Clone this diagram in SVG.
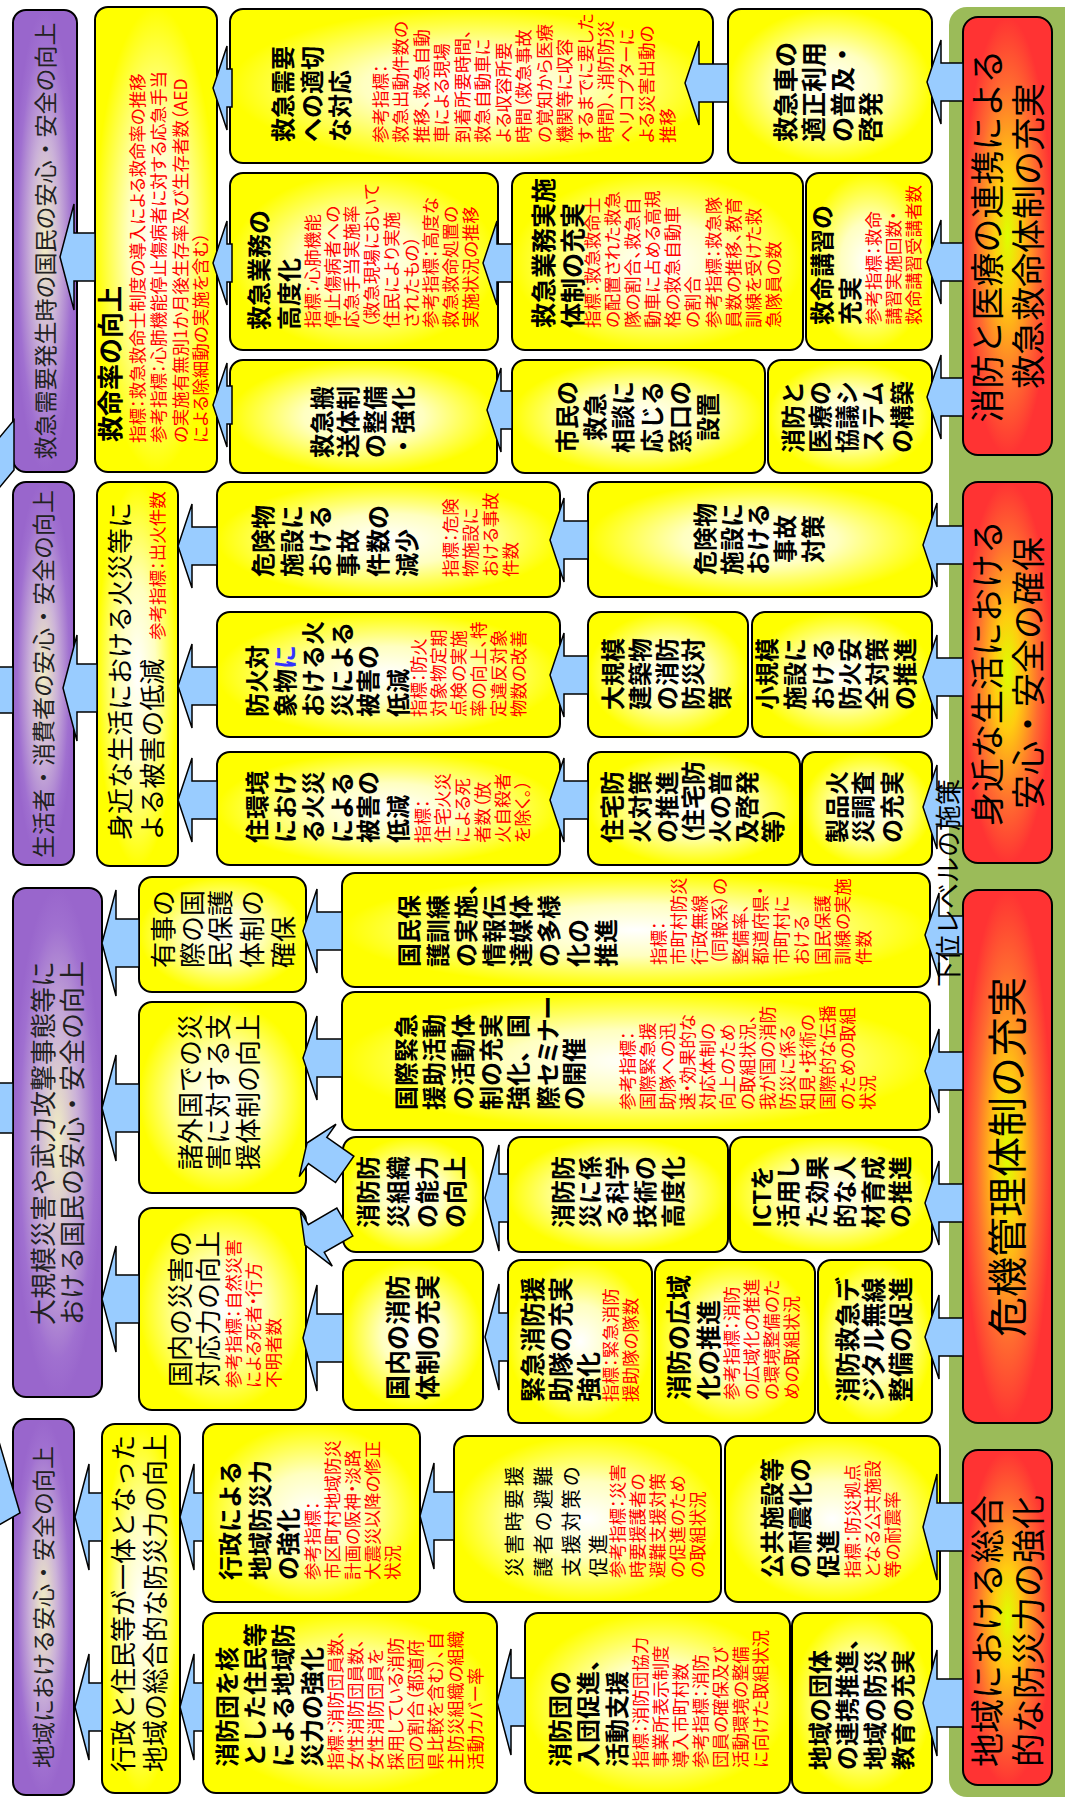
<svg xmlns="http://www.w3.org/2000/svg" width="1065" height="1798" viewBox="0 0 1065 1798">
<defs>
<radialGradient id="gy" cx="0.5" cy="0.5" r="0.5"><stop offset="0" stop-color="#ffffff"/><stop offset="0.45" stop-color="#ffffc0"/><stop offset="1" stop-color="#ffff00"/></radialGradient>
<radialGradient id="gp" cx="0.5" cy="0.5" r="0.5"><stop offset="0" stop-color="#f3f0c2"/><stop offset="0.45" stop-color="#cbb2d8"/><stop offset="0.85" stop-color="#a070d0"/><stop offset="1" stop-color="#9966cc"/></radialGradient>
<radialGradient id="gr" cx="0.5" cy="0.5" r="0.5"><stop offset="0" stop-color="#ddff00"/><stop offset="0.3" stop-color="#ffcc10"/><stop offset="0.7" stop-color="#ff6a30"/><stop offset="1" stop-color="#ff3333"/></radialGradient>
<style>
text{font-family:"Noto Sans CJK JP","Noto Sans CJK SC",sans-serif}
.bx{stroke:#000;stroke-width:2;fill:url(#gy)}
.pu{stroke:#000;stroke-width:2;fill:url(#gp)}
.rd{stroke:#000;stroke-width:2;fill:url(#gr)}
.t{font-size:24px;font-weight:700;fill:#000}
.tr{font-size:26px;font-weight:400;fill:#000}
.r{font-size:17.5px;fill:#ff0000;font-feature-settings:"palt"}
.p{font-size:23px;fill:#222}
.big{font-size:34px;fill:#000}
.ar{fill:#99ccff;stroke:#000;stroke-width:1.5}
</style>
</defs>
<rect width="1065" height="1798" fill="#ffffff"/>
<g transform="translate(0,1798) rotate(-90)">
<rect id="band" x="1" y="949" width="1790" height="140" rx="18" fill="#9bbb59"/>

<!-- ===== Block 1 ===== -->
<g id="p1"><rect class="pu" x="1326" y="13" width="462" height="64" rx="13"/>
<text class="p" x="1557" y="54" text-anchor="middle">救急需要発生時の国民の安心・安全の向上</text></g>

<g id="y1"><rect class="bx" x="1326" y="95" width="465" height="122" rx="13"/>
<text class="t" style="font-size:26px" x="1356" y="120">救命率の向上</text>
<text class="r"><tspan x="1355" y="144">指標：救急救命士制度の導入による救命率の推移</tspan><tspan x="1355" y="165">参考指標：心肺機能停止傷病者に対する応急手当</tspan><tspan x="1355" y="187">の実施有無別1か月後生存率及び生存者数（AED</tspan><tspan x="1355" y="207">による除細動の実施を含む）</tspan></text></g>

<g id="b1-juyo"><rect class="bx" x="1635" y="230" width="154" height="483" rx="13"/>
<text class="t"><tspan x="1656" y="292">救急需要</tspan><tspan x="1656" y="321">への適切</tspan><tspan x="1656" y="349">な対応</tspan></text>
<text class="r"><tspan x="1655" y="387">参考指標：</tspan><tspan x="1655" y="407">救急出動件数の</tspan><tspan x="1655" y="428">推移、救急自動</tspan><tspan x="1655" y="448">車による現場</tspan><tspan x="1655" y="469">到着所要時間、</tspan><tspan x="1655" y="489">救急自動車に</tspan><tspan x="1655" y="510">よる収容所要</tspan><tspan x="1655" y="530">時間（救急事故</tspan><tspan x="1655" y="551">の覚知から医療</tspan><tspan x="1655" y="571">機関等に収容</tspan><tspan x="1655" y="592">するまでに要した</tspan><tspan x="1655" y="612">時間）、消防防災</tspan><tspan x="1655" y="633">ヘリコプターに</tspan><tspan x="1655" y="653">よる災害出動の</tspan><tspan x="1655" y="674">推移</tspan></text></g>

<g id="b1-kodo"><rect class="bx" x="1448" y="230" width="177" height="268" rx="13"/>
<text class="t"><tspan x="1468" y="268">救急業務の</tspan><tspan x="1468" y="298">高度化</tspan></text>
<text class="r"><tspan x="1470" y="319">指標：心肺機能</tspan><tspan x="1470" y="339">停止傷病者への</tspan><tspan x="1470" y="358">応急手当実施率</tspan><tspan x="1470" y="378">（救急現場において</tspan><tspan x="1470" y="398">住民により実施</tspan><tspan x="1470" y="418">されたもの）</tspan><tspan x="1470" y="437">参考指標：高度な</tspan><tspan x="1470" y="457">救急救命処置の</tspan><tspan x="1470" y="477">実施状況の推移</tspan></text></g>

<g id="b1-hanso"><rect class="bx" x="1325" y="230" width="113" height="267" rx="13"/>
<text class="t"><tspan x="1340" y="331">救急搬</tspan><tspan x="1340" y="357">送体制</tspan><tspan x="1340" y="384">の整備</tspan><tspan x="1340" y="412">・強化</tspan></text></g>

<g id="b1-jisshi"><rect class="bx" x="1448" y="512" width="177" height="291" rx="13"/>
<text class="t" style="font-size:25px"><tspan x="1470" y="553">救急業務実施</tspan><tspan x="1470" y="582">体制の充実</tspan></text>
<text class="r"><tspan x="1470" y="599">指標：救急救命士</tspan><tspan x="1470" y="619">の配置された救急</tspan><tspan x="1470" y="639">隊の割合、救急自</tspan><tspan x="1470" y="659">動車に占める高規</tspan><tspan x="1470" y="679">格の救急自動車</tspan><tspan x="1470" y="699">の割合</tspan><tspan x="1470" y="720">参考指標：救急隊</tspan><tspan x="1470" y="740">員数の推移、教育</tspan><tspan x="1470" y="760">訓練を受けた救</tspan><tspan x="1470" y="780">急隊員の数</tspan></text></g>

<g id="b1-soudan"><rect class="bx" x="1325" y="512" width="113" height="253" rx="13"/>
<text class="t" text-anchor="middle"><tspan x="1381" y="576">市民の</tspan><tspan x="1381" y="604">救急</tspan><tspan x="1381" y="632">相談に</tspan><tspan x="1381" y="661">応じる</tspan><tspan x="1381" y="689">窓口の</tspan><tspan x="1381" y="717">設置</tspan></text></g>

<g id="b1-tekisei"><rect class="bx" x="1635" y="728" width="154" height="204" rx="13"/>
<text class="t" style="font-size:25px"><tspan x="1656" y="795">救急車の</tspan><tspan x="1656" y="823">適正利用</tspan><tspan x="1656" y="852">の普及・</tspan><tspan x="1656" y="880">啓発</tspan></text></g>

<g id="b1-koshu"><rect class="bx" x="1448" y="806" width="177" height="126" rx="13"/>
<text class="t"><tspan x="1473" y="831">救命講習の</tspan><tspan x="1473" y="859">充実</tspan></text>
<text class="r"><tspan x="1473" y="880">参考指標：救命</tspan><tspan x="1473" y="900">講習実施回数・</tspan><tspan x="1473" y="920">救命講習受講者数</tspan></text></g>

<g id="b1-kyogi"><rect class="bx" x="1325" y="768" width="113" height="164" rx="13"/>
<text class="t"><tspan x="1345" y="802">消防と</tspan><tspan x="1345" y="829">医療の</tspan><tspan x="1345" y="856">協議シ</tspan><tspan x="1345" y="882">ステム</tspan><tspan x="1345" y="911">の構築</tspan></text></g>

<g id="r1"><rect class="rd" x="1343" y="963" width="438" height="89" rx="15"/>
<text class="big" text-anchor="middle"><tspan x="1562" y="1000">消防と医療の連携による</tspan><tspan x="1562" y="1041">救急救命体制の充実</tspan></text></g>

<!-- ===== Block 2 ===== -->
<g id="p2"><rect class="pu" x="933" y="13" width="383" height="61" rx="13"/>
<text class="p" x="1124" y="52" text-anchor="middle">生活者・消費者の安心・安全の向上</text></g>

<g id="y2"><rect class="bx" x="932" y="97" width="384" height="81" rx="13"/>
<text class="tr"><tspan x="958" y="130">身近な生活における火災等に</tspan><tspan x="958" y="162">よる被害の低減</tspan></text>
<text class="r" x="1158" y="164">参考指標：出火件数</text></g>

<g id="b2-kensu"><rect class="bx" x="1201" y="217" width="115" height="343" rx="13"/>
<text class="t"><tspan x="1221" y="272">危険物</tspan><tspan x="1221" y="301">施設に</tspan><tspan x="1221" y="329">おける</tspan><tspan x="1221" y="357">事故</tspan><tspan x="1221" y="387">件数の</tspan><tspan x="1221" y="416">減少</tspan></text>
<text class="r"><tspan x="1221" y="457">指標：危険</tspan><tspan x="1221" y="477">物施設に</tspan><tspan x="1221" y="497">おける事故</tspan><tspan x="1221" y="517">件数</tspan></text></g>

<g id="b2-boka"><rect class="bx" x="1061" y="217" width="125" height="343" rx="13"/>
<text class="t"><tspan x="1081" y="266">防火対</tspan><tspan x="1081" y="294">象物<tspan fill="#3333ff">に</tspan></tspan><tspan x="1081" y="322">おける火</tspan><tspan x="1081" y="351">災による</tspan><tspan x="1081" y="377">被害の</tspan><tspan x="1081" y="407">低減</tspan></text>
<text class="r"><tspan x="1081" y="425">指標：防火</tspan><tspan x="1081" y="445">対象物定期</tspan><tspan x="1081" y="465">点検の実施</tspan><tspan x="1081" y="485">率の向上、特</tspan><tspan x="1081" y="505">定違反対象</tspan><tspan x="1081" y="525">物数の改善</tspan></text></g>

<g id="b2-jukankyo"><rect class="bx" x="933" y="217" width="113" height="343" rx="13"/>
<text class="t"><tspan x="955" y="266">住環境</tspan><tspan x="955" y="294">におけ</tspan><tspan x="955" y="322">る火災</tspan><tspan x="955" y="351">による</tspan><tspan x="955" y="377">被害の</tspan><tspan x="955" y="407">低減</tspan></text>
<text class="r"><tspan x="955" y="429">指標：</tspan><tspan x="955" y="449">住宅火災</tspan><tspan x="955" y="469">による死</tspan><tspan x="955" y="489">者数（放</tspan><tspan x="955" y="509">火自殺者</tspan><tspan x="955" y="529">を除く。）</tspan></text></g>

<g id="b2-taisaku"><rect class="bx" x="1201" y="588" width="115" height="344" rx="13"/>
<text class="t" text-anchor="middle"><tspan x="1259" y="714">危険物</tspan><tspan x="1259" y="741">施設に</tspan><tspan x="1259" y="767">おける</tspan><tspan x="1259" y="794">事故</tspan><tspan x="1259" y="822">対策</tspan></text></g>

<g id="b2-daikibo"><rect class="bx" x="1061" y="588" width="125" height="160" rx="13"/>
<text class="t"><tspan x="1088" y="622">大規模</tspan><tspan x="1088" y="649">建築物</tspan><tspan x="1088" y="676">の消防</tspan><tspan x="1088" y="702">防災対</tspan><tspan x="1088" y="729">策</tspan></text></g>

<g id="b2-shokibo"><rect class="bx" x="1061" y="752" width="125" height="180" rx="13"/>
<text class="t"><tspan x="1088" y="776">小規模</tspan><tspan x="1088" y="804">施設に</tspan><tspan x="1088" y="832">おける</tspan><tspan x="1088" y="859">防火安</tspan><tspan x="1088" y="886">全対策</tspan><tspan x="1088" y="914">の推進</tspan></text></g>

<g id="b2-jutaku"><rect class="bx" x="933" y="588" width="113" height="212" rx="13"/>
<text class="t"><tspan x="955" y="621">住宅防</tspan><tspan x="955" y="649">火対策</tspan><tspan x="955" y="676">の推進</tspan><tspan x="953" y="702" style="font-feature-settings:'palt'">（住宅防</tspan><tspan x="955" y="729">火の普</tspan><tspan x="955" y="756">及啓発</tspan><tspan x="955" y="782" style="font-feature-settings:'palt'">等）</tspan></text></g>

<g id="b2-seihin"><rect class="bx" x="933" y="802" width="113" height="130" rx="13"/>
<text class="t"><tspan x="955" y="846">製品火</tspan><tspan x="955" y="872">災調査</tspan><tspan x="955" y="901">の充実</tspan></text></g>

<g id="r2"><rect class="rd" x="935" y="963" width="381" height="89" rx="15"/>
<text class="big" text-anchor="middle"><tspan x="1125" y="1000">身近な生活における</tspan><tspan x="1125" y="1041">安心・安全の確保</tspan></text></g>

<!-- ===== Block 3 ===== -->
<g id="p3"><rect class="pu" x="401" y="13" width="509" height="89" rx="13"/>
<text class="p" style="font-size:26px" text-anchor="middle"><tspan x="655" y="53">大規模災害や武力攻撃事態等に</tspan><tspan x="655" y="82">おける国民の安心・安全の向上</tspan></text></g>

<g id="c-yuji"><rect class="bx" x="806" y="139" width="115" height="167" rx="13"/>
<text class="tr"><tspan x="830" y="173">有事の</tspan><tspan x="830" y="202">際の国</tspan><tspan x="830" y="230">民保護</tspan><tspan x="830" y="262">体制の</tspan><tspan x="830" y="293">確保</tspan></text></g>

<g id="c-shogaikoku"><rect class="bx" x="605" y="139" width="191" height="167" rx="13"/>
<text class="tr"><tspan x="628" y="200">諸外国での災</tspan><tspan x="628" y="228">害に対する支</tspan><tspan x="628" y="258">援体制の向上</tspan></text></g>

<g id="c-kokunai"><rect class="bx" x="388" y="139" width="202" height="167" rx="13"/>
<text class="tr"><tspan x="411" y="190">国内の災害の</tspan><tspan x="411" y="218">対応力の向上</tspan></text>
<text class="r"><tspan x="410" y="240">参考指標：自然災害</tspan><tspan x="410" y="260">による死者・行方</tspan><tspan x="410" y="280">不明者数</tspan></text></g>

<g id="c-kunren"><rect class="bx" x="811" y="342" width="114" height="588" rx="13"/>
<text class="t"><tspan x="831" y="418">国民保</tspan><tspan x="831" y="447">護訓練</tspan><tspan x="831" y="475">の実施、</tspan><tspan x="831" y="503">情報伝</tspan><tspan x="831" y="530">達媒体</tspan><tspan x="831" y="558">の多様</tspan><tspan x="831" y="587">化の</tspan><tspan x="831" y="615">推進</tspan></text>
<text class="r"><tspan x="833" y="665">指標：</tspan><tspan x="833" y="685">市町村防災</tspan><tspan x="833" y="706">行政無線</tspan><tspan x="833" y="726">（同報系）の</tspan><tspan x="833" y="747">整備率、</tspan><tspan x="833" y="767">都道府県・</tspan><tspan x="833" y="788">市町村に</tspan><tspan x="833" y="808">おける</tspan><tspan x="833" y="829">国民保護</tspan><tspan x="833" y="849">訓練の実施</tspan><tspan x="833" y="870">件数</tspan></text></g>

<g id="c-kokusai"><rect class="bx" x="668" y="342" width="138" height="588" rx="13"/>
<text class="t"><tspan x="688" y="415">国際緊急</tspan><tspan x="688" y="443">援助活動</tspan><tspan x="688" y="472">の活動体</tspan><tspan x="688" y="500">制の充実</tspan><tspan x="688" y="527">強化、国</tspan><tspan x="688" y="557" style="font-feature-settings:'palt'">際セミナー</tspan><tspan x="688" y="583">の開催</tspan></text>
<text class="r"><tspan x="688" y="634">参考指標：</tspan><tspan x="688" y="654">国際緊急援</tspan><tspan x="688" y="674">助隊への迅</tspan><tspan x="688" y="694">速・効果的な</tspan><tspan x="688" y="714">対応体制の</tspan><tspan x="688" y="734">向上のため</tspan><tspan x="688" y="754">の取組状況、</tspan><tspan x="688" y="774">我が国の消防</tspan><tspan x="688" y="794">防災に係る</tspan><tspan x="688" y="814">知見・技術の</tspan><tspan x="688" y="834">国際的な伝播</tspan><tspan x="688" y="854">のための取組</tspan><tspan x="688" y="874">状況</tspan></text></g>

<g id="c-soshiki"><rect class="bx" x="546" y="343" width="115" height="140" rx="13"/>
<text class="t"><tspan x="570" y="377">消防防</tspan><tspan x="570" y="407">災組織</tspan><tspan x="570" y="436">の能力</tspan><tspan x="570" y="464">の向上</tspan></text></g>

<g id="c-kagaku"><rect class="bx" x="546" y="508" width="115" height="220" rx="13"/>
<text class="t"><tspan x="570" y="572">消防防</tspan><tspan x="570" y="599">災に係</tspan><tspan x="570" y="626">る科学</tspan><tspan x="570" y="654">技術の</tspan><tspan x="570" y="682">高度化</tspan></text></g>

<g id="c-ict"><rect class="bx" x="546" y="730" width="115" height="202" rx="13"/>
<text class="t"><tspan x="570" y="771">ICTを</tspan><tspan x="570" y="797">活用し</tspan><tspan x="570" y="826">た効果</tspan><tspan x="570" y="854">的な人</tspan><tspan x="570" y="882">材育成</tspan><tspan x="570" y="909">の推進</tspan></text></g>

<g id="c-taisei"><rect class="bx" x="388" y="343" width="150" height="140" rx="13"/>
<text class="t" style="font-size:25px"><tspan x="398" y="407">国内の消防</tspan><tspan x="398" y="437">体制の充実</tspan></text></g>

<g id="c-kinkyu"><rect class="bx" x="375" y="508" width="163" height="144" rx="13"/>
<text class="t" style="font-size:25px"><tspan x="396" y="542">緊急消防援</tspan><tspan x="396" y="570">助隊の充実</tspan><tspan x="396" y="598">強化</tspan></text>
<text class="r"><tspan x="396" y="617">指標：緊急消防</tspan><tspan x="396" y="637">援助隊の隊数</tspan></text></g>

<g id="c-koiki"><rect class="bx" x="375" y="655" width="163" height="160" rx="13"/>
<text class="t" style="font-size:25px"><tspan x="398" y="688">消防の広域</tspan><tspan x="398" y="718">化の推進</tspan></text>
<text class="r"><tspan x="398" y="738">参考指標：消防</tspan><tspan x="398" y="758">の広域化の推進</tspan><tspan x="398" y="778">の環境整備のた</tspan><tspan x="398" y="798">めの取組状況</tspan></text></g>

<g id="c-digital"><rect class="bx" x="375" y="818" width="163" height="114" rx="13"/>
<text class="t" style="font-size:25px"><tspan x="396" y="857">消防救急デ</tspan><tspan x="396" y="883">ジタル無線</tspan><tspan x="396" y="910">整備の促進</tspan></text></g>

<g id="r3"><rect class="rd" x="375" y="963" width="533" height="89" rx="15"/>
<text class="big" style="font-size:40px" x="641" y="1022" text-anchor="middle">危機管理体制の充実</text></g>

<!-- ===== Block 4 ===== -->
<g id="p4"><rect class="pu" x="3" y="13" width="376" height="61" rx="13"/>
<text class="p" x="191" y="52" text-anchor="middle">地域における安心・安全の向上</text></g>

<g id="d-sogo"><rect class="bx" x="5" y="102" width="369" height="78" rx="13"/>
<text class="tr"><tspan x="26" y="133">行政と住民等が一体となった</tspan><tspan x="26" y="165">地域の総合的な防災力の向上</tspan></text></g>

<g id="d-gyosei"><rect class="bx" x="196" y="203" width="178" height="217" rx="13"/>
<text class="t"><tspan x="218" y="239">行政による</tspan><tspan x="218" y="269">地域防災力</tspan><tspan x="218" y="297">の強化</tspan></text>
<text class="r"><tspan x="218" y="319">参考指標：</tspan><tspan x="218" y="339">市区町村地域防災</tspan><tspan x="218" y="359">計画の阪神・淡路</tspan><tspan x="218" y="379">大震災以降の修正</tspan><tspan x="218" y="399">状況</tspan></text></g>

<g id="d-shobodan"><rect class="bx" x="5" y="203" width="180" height="294" rx="13"/>
<text class="t"><tspan x="31" y="236">消防団を核</tspan><tspan x="31" y="264">とした住民等</tspan><tspan x="31" y="292">による地域防</tspan><tspan x="31" y="321">災力の強化</tspan></text>
<text class="r"><tspan x="28" y="342">指標：消防団員数、</tspan><tspan x="28" y="362">女性消防団員数、</tspan><tspan x="28" y="382">女性消防団員を</tspan><tspan x="28" y="402">採用している消防</tspan><tspan x="28" y="422">団の割合（都道府</tspan><tspan x="28" y="442">県比較を含む）、自</tspan><tspan x="28" y="462">主防災組織の組織</tspan><tspan x="28" y="482">活動カバー率</tspan></text></g>

<g id="d-yoengo"><rect class="bx" x="196" y="454" width="166" height="267" rx="13"/>
<text class="tr" style="font-size:20px;letter-spacing:2.7px"><tspan x="221" y="522">災害時要援</tspan><tspan x="221" y="551">護者の避難</tspan><tspan x="221" y="579">支援対策の</tspan><tspan x="221" y="606">促進</tspan></text>
<text class="r"><tspan x="220" y="624">参考指標：災害</tspan><tspan x="220" y="644">時要援護者の</tspan><tspan x="220" y="664">避難支援対策</tspan><tspan x="220" y="684">の促進のため</tspan><tspan x="220" y="704">の取組状況</tspan></text></g>

<g id="d-nyudan"><rect class="bx" x="5" y="525" width="180" height="265" rx="13"/>
<text class="t"><tspan x="31" y="569">消防団の</tspan><tspan x="31" y="597">入団促進、</tspan><tspan x="31" y="626">活動支援</tspan></text>
<text class="r"><tspan x="30" y="647">指標：消防団協力</tspan><tspan x="30" y="667">事業所表示制度</tspan><tspan x="30" y="687">導入市町村数</tspan><tspan x="30" y="707">参考指標：消防</tspan><tspan x="30" y="727">団員の確保及び</tspan><tspan x="30" y="747">活動環境の整備</tspan><tspan x="30" y="767">に向けた取組状況</tspan></text></g>

<g id="d-taishin"><rect class="bx" x="196" y="725" width="166" height="215" rx="13"/>
<text class="t"><tspan x="220" y="781">公共施設等</tspan><tspan x="220" y="809">の耐震化の</tspan><tspan x="220" y="837">促進</tspan></text>
<text class="r"><tspan x="220" y="859">指標：防災拠点</tspan><tspan x="220" y="879">となる公共施設</tspan><tspan x="220" y="899">等の耐震率</tspan></text></g>

<g id="d-dantai"><rect class="bx" x="5" y="792" width="180" height="140" rx="13"/>
<text class="t"><tspan x="28" y="829">地域の団体</tspan><tspan x="28" y="856">の連携推進、</tspan><tspan x="28" y="884">地域の防災</tspan><tspan x="28" y="912">教育の充実</tspan></text></g>

<g id="r4"><rect class="rd" x="13" y="963" width="335" height="89" rx="15"/>
<text class="big"><tspan x="31" y="1000">地域における総合</tspan><tspan x="31" y="1041">的な防災力の強化</tspan></text></g>

<!-- ===== Connectors ===== -->
<g id="connectors" class="ar">
<path d="M1378,14 L1328,14 L1305,-5 L1355,-5 Z"/>
<rect x="1085" y="-3" width="46" height="16"/>
<rect x="665" y="-3" width="50" height="16"/>
<path d="M363,-3 L285,20 L272,-3 Z"/>

<path d="M1541,60 l53,14 h-29 v21 h-48 v-21 h-29 z"/>
<path d="M1710,213 l42,14 h-23 v5 h-38 v-5 h-23 z"/>
<path d="M1535,213 l42,14 h-23 v5 h-38 v-5 h-23 z"/>
<path d="M1393,213 l42,14 h-23 v5 h-38 v-5 h-23 z"/>
<path d="M1715,685 l42,14 h-23 v29 h-38 v-29 h-23 z"/>
<path d="M1535,483 l42,14 h-23 v15 h-38 v-15 h-23 z"/>
<path d="M1388,487 l42,14 h-23 v11 h-38 v-11 h-23 z"/>
<path d="M1716,927 l42,14 h-23 v22 h-38 v-22 h-23 z"/>
<path d="M1536,927 l42,14 h-23 v22 h-38 v-22 h-23 z"/>
<path d="M1401,927 l42,14 h-23 v22 h-38 v-22 h-23 z"/>

<path d="M1110,63 l53,14 h-29 v20 h-48 v-20 h-29 z"/>
<path d="M1252,178 l42,14 h-23 v25 h-38 v-25 h-23 z"/>
<path d="M1112,178 l42,14 h-23 v25 h-38 v-25 h-23 z"/>
<path d="M998,178 l42,14 h-23 v25 h-38 v-25 h-23 z"/>
<path d="M1258,550 l42,14 h-23 v24 h-38 v-24 h-23 z"/>
<path d="M1123,550 l42,14 h-23 v24 h-38 v-24 h-23 z"/>
<path d="M998,550 l42,14 h-23 v24 h-38 v-24 h-23 z"/>
<path d="M1253,923 l42,14 h-23 v26 h-38 v-26 h-23 z"/>
<path d="M1121,923 l42,14 h-23 v26 h-38 v-26 h-23 z"/>
<path d="M991,923 l42,14 h-23 v26 h-38 v-26 h-23 z"/>

<path d="M855,102 l53,14 h-29 v23 h-48 v-23 h-29 z"/>
<path d="M690,102 l53,14 h-29 v23 h-48 v-23 h-29 z"/>
<path d="M499,102 l53,14 h-29 v23 h-48 v-23 h-29 z"/>
<path d="M867,303 l42,14 h-23 v25 h-38 v-25 h-23 z"/>
<path d="M740,303 l42,14 h-23 v25 h-38 v-25 h-23 z"/>
<path d="M460,303 l53,14 h-29 v26 h-48 v-26 h-29 z"/>
<path d="M600,485 l53,14 h-29 v9 h-48 v-9 h-29 z"/>
<path d="M461,485 l53,14 h-29 v9 h-48 v-9 h-29 z"/>
<path d="M863,925 l42,14 h-23 v24 h-38 v-24 h-23 z"/>
<path d="M727,925 l42,14 h-23 v24 h-38 v-24 h-23 z"/>
<path d="M595,925 l42,14 h-23 v24 h-38 v-24 h-23 z"/>
<path d="M461,925 l42,14 h-23 v24 h-38 v-24 h-23 z"/>
<path transform="translate(655,307) rotate(35)" d="M0,0 l32,13 h-16 v33 h-32 v-33 h-16 z"/>
<path transform="translate(553,305) rotate(-30)" d="M0,0 l32,13 h-16 v33 h-32 v-33 h-16 z"/>

<path d="M281,75 l53,14 h-29 v13 h-48 v-13 h-29 z"/>
<path d="M91,75 l53,14 h-29 v13 h-48 v-13 h-29 z"/>
<path d="M281,180 l53,14 h-29 v9 h-48 v-9 h-29 z"/>
<path d="M91,180 l53,14 h-29 v9 h-48 v-9 h-29 z"/>
<path d="M282,420 l53,14 h-29 v20 h-48 v-20 h-29 z"/>
<path d="M96,497 l53,14 h-29 v14 h-48 v-14 h-29 z"/>
<path d="M271,923 l53,14 h-29 v26 h-48 v-26 h-29 z"/>
<path d="M95,923 l53,14 h-29 v26 h-48 v-26 h-29 z"/>
</g>

<text id="lower-level" x="811" y="958" font-size="26" fill="#000">下位レベルの施策</text>
</g>
</svg>
